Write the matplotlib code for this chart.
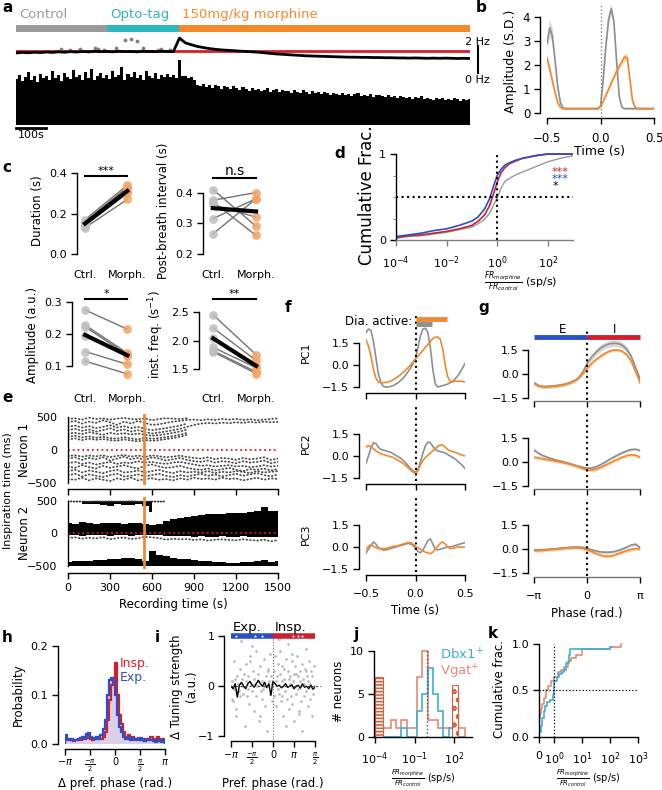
import numpy as np
import matplotlib
matplotlib.use('Agg')
import matplotlib.pyplot as plt
from matplotlib.ticker import NullLocator

nan = np.nan

# ---------------- data ----------------
# a: recording overview
cond_names = ['Control', 'Opto-tag', '150mg/kg morphine']
cond_start = [0, 300, 540]
cond_stop = [300, 540, 1500]
a_freq_t = np.arange(0, 1501, 20)
a_freq = [1.42, 1.45, 1.43, 1.46, 1.44, 1.47, 1.45, 1.48, 1.46, 1.49,
          1.47, 1.50, 1.48, 1.51, 1.49, 1.50, 1.48, 1.51, 1.49, 1.50,
          1.48, 1.51, 1.50, 1.49, 1.51, 1.50, 1.49, 2.20, 1.95, 1.85,
          1.76, 1.70, 1.65, 1.61, 1.58, 1.56, 1.54, 1.52, 1.50, 1.48,
          1.46, 1.43, 1.40, 1.37, 1.35, 1.33, 1.31, 1.29, 1.27, 1.26,
          1.25, 1.24, 1.23, 1.22, 1.21, 1.20, 1.20, 1.19, 1.19, 1.18,
          1.18, 1.17, 1.17, 1.16, 1.16, 1.15, 1.16, 1.15, 1.14, 1.15,
          1.14, 1.15, 1.14, 1.13, 1.14, 1.13]
a_out_t = [150, 180, 210, 260, 270, 290, 330, 360, 380, 400, 420, 470, 480, 510]
a_out_f = [1.62, 1.58, 1.65, 1.70, 1.62, 1.60, 1.66, 2.10, 2.15, 2.05, 1.70, 1.60, 1.62, 1.58]
a_baseline_freq = 1.53
a_amp_t = np.arange(0, 1501, 10)
a_amp = [0.92, 1.00, 0.88, 0.95, 1.05, 0.90, 0.98, 0.86, 1.02, 0.94,
         0.97, 0.90, 1.08, 0.93, 0.99, 0.88, 1.04, 0.95, 0.91, 1.10,
         0.96, 1.00, 0.89, 1.06, 0.94, 1.12, 0.90, 0.98, 1.03, 0.93,
         1.00, 0.92, 1.07, 0.95, 0.99, 1.15, 0.90, 1.02, 0.96, 1.05,
         0.94, 1.00, 0.90, 1.08, 0.97, 0.93, 1.04, 0.91, 0.99, 0.95,
         1.02, 0.96, 1.00, 0.94, 1.30, 0.98, 0.97, 0.93, 0.95, 0.90,
         0.80, 0.78, 0.82, 0.76, 0.80, 0.74, 0.79, 0.77, 0.72, 0.78,
         0.75, 0.71, 0.77, 0.73, 0.70, 0.76, 0.72, 0.68, 0.74, 0.70,
         0.72, 0.67, 0.70, 0.73, 0.66, 0.69, 0.71, 0.65, 0.70, 0.67,
         0.68, 0.64, 0.70, 0.66, 0.63, 0.69, 0.65, 0.62, 0.67, 0.64,
         0.66, 0.61, 0.65, 0.63, 0.60, 0.64, 0.62, 0.59, 0.63, 0.60,
         0.62, 0.58, 0.61, 0.64, 0.57, 0.60, 0.58, 0.62, 0.56, 0.59,
         0.60, 0.57, 0.55, 0.59, 0.56, 0.58, 0.54, 0.57, 0.55, 0.53,
         0.56, 0.52, 0.55, 0.53, 0.57, 0.51, 0.54, 0.52, 0.50, 0.53,
         0.51, 0.54, 0.50, 0.52, 0.49, 0.53, 0.51, 0.48, 0.52, 0.50,
         0.51]

# b: diaphragm amplitude
b_t = np.linspace(-0.5, 0.5, 41)
b_ctrl = [2.9, 3.55, 3.2, 2.2, 1.1, 0.45, 0.22, 0.2] + [0.2] * 12 + \
         [0.3, 1.4, 2.8, 3.9, 4.35, 3.8, 2.2, 0.7, 0.25] + [0.2] * 12
b_ctrl_sem = [0.25, 0.35, 0.3, 0.2, 0.15, 0.08, 0.05, 0.05] + [0.04] * 12 + \
             [0.05, 0.15, 0.2, 0.25, 0.2, 0.2, 0.15, 0.08, 0.05] + [0.04] * 12
b_morph = [2.3, 1.85, 1.35, 0.85, 0.45, 0.25, 0.2] + [0.2] * 13 + \
          [0.28, 0.5, 0.75, 1.0, 1.25, 1.5, 1.75, 1.95, 2.15, 2.35, 2.3, 1.4, 0.5, 0.25] + [0.2] * 7
b_morph_sem = [0.2, 0.15, 0.12, 0.1, 0.08, 0.05, 0.04] + [0.03] * 13 + \
              [0.03, 0.05, 0.06, 0.07, 0.08, 0.09, 0.1, 0.11, 0.12, 0.15, 0.15, 0.12, 0.08, 0.05] + [0.03] * 7

# c: breath parameters
c_duration_ctrl = [0.17, 0.16, 0.155, 0.15, 0.14, 0.13]
c_duration_morph = [0.34, 0.33, 0.32, 0.31, 0.30, 0.27]
c_pbi_ctrl = [0.41, 0.375, 0.37, 0.36, 0.315, 0.265]
c_pbi_morph = [0.29, 0.40, 0.26, 0.32, 0.38, 0.38]
c_amp_ctrl = [0.275, 0.228, 0.222, 0.195, 0.145, 0.115]
c_amp_morph = [0.215, 0.14, 0.135, 0.13, 0.105, 0.075]
c_freq_ctrl = [2.45, 2.22, 2.05, 1.88, 1.82, 1.80]
c_freq_morph = [1.75, 1.65, 1.55, 1.52, 1.45, 1.42]

# d: cumulative fraction of firing-rate ratio
d_logx = [-4, -3.5, -3, -2.5, -2, -1.5, -1, -0.75, -0.5, -0.3, -0.15, 0, 0.15, 0.3, 0.5, 0.75, 1, 1.5, 2, 2.5, 3]
d_blue = [0.04, 0.06, 0.08, 0.11, 0.13, 0.17, 0.22, 0.27, 0.36, 0.48, 0.62, 0.75, 0.82, 0.87, 0.90, 0.93, 0.95, 0.98, 1.0, 1.0, 1.0]
d_red = [0.03, 0.05, 0.06, 0.08, 0.10, 0.13, 0.17, 0.22, 0.29, 0.40, 0.53, 0.67, 0.78, 0.84, 0.89, 0.92, 0.95, 0.98, 1.0, 1.0, 1.0]
d_gray = [0.02, 0.04, 0.05, 0.07, 0.09, 0.12, 0.15, 0.19, 0.24, 0.31, 0.40, 0.49, 0.60, 0.68, 0.72, 0.76, 0.79, 0.85, 0.91, 0.95, 0.98]

# e: raster tracks (ms relative to inspiration)
e_t = np.arange(0, 1501, 50)
n1_tracks = [
    [200, 215, 190, 205, 185, 200, 180, 170, 195, 175, 160, 185, 170, 180, 195, 210, 230, 260] + [nan] * 13,
    [300, 320, 290, 310, 280, 300, 330, 290, 310, 280, 300, 270, 250, 265, 280, 300, 320, 350, 380, 400,
     410, 400, 415, 405, 420, 410, 425, 415, 430, 420, 425],
    [420, 440, 400, 430, 410, 450, 420, 380, 430, 400, 440, 410, 380, 390, 410, 430, 440, 455, 460, 450,
     465, 455, 470, 460, 470, 455, 465, 450, 460, 470, 480],
    [250, 260, 240, 270, 250, 230, 260, 240, 255, 235, 250, 230, 215, 225, 240, 260, 280, 310] + [nan] * 13,
    [470, 480, 460, 490, 470, 480, 460, 475, 485, 470, 465, 480, 450, 470, 480, 475, 470, 480] + [nan] * 13,
    [350, 370, 340, 360, 330, 350, 375, 340, 360, 330, 350, 320, 300, 315, 330, 350, 370, 400] + [nan] * 13,
    [160, 175, 150, 170, 155, 165, 150, 140, 160, 145, 130, 150, 140, 150, 165, 180, 200, 230] + [nan] * 13,
    [-130, -110, -150, -120, -140, -110, -160, -130, -100, -140, -120, -150, -110, -130, -160, -140, -120, -150,
     -170, -180, -160, -190, -170, -180, -200, -170, -190, -180, -160, -200, -180],
    [-250, -270, -230, -260, -280, -240, -270, -250, -230, -260, -280, -240, -220, -250, -270, -260, -240, -270,
     -290, -300, -280, -310, -290, -270, -300, -320, -290, -300, -280, -310, -290],
    [-380, -360, -400, -370, -390, -410, -380, -360, -400, -390, -370, -400, -380, -360, -390, -410, -380, -400,
     -380, -360, -390, -370, -400, -380, -360, -390, -370, -350, -380, -400, -370],
    [-440, -450, -420, -460, -430, -450, -470, -430, -450, -420, -460, -440, -430, -450, -440, -460, -430, -450,
     -420, -440, -430, -450, -420, -440, -430, -460, -440, -420, -450, -430, -440],
    [-200, -180, -210, -190, -220, -200, -180, -210, -190, -200, -170, -190, -180, -200, -210, -190, -180, -200,
     -220, -240, -230, -250, -240, -230, -250, -240, -260, -250, -230, -250, -240],
    [-320, -300, -340, -310, -330, -350, -320, -300, -340, -330, -310, -340, -320, -300, -330, -350, -320, -340,
     -330, -340, -320, -350, -330, -340, -320, -330, -350, -320, -340, -330, -320],
    [-90, -80, -100, -85, -95, -80, -110, -90, -75, -100, -85, -105, -80, -95, -110, -100, -85, -105,
     -120, -130, -110, -140, -120, -130, -150, -120, -140, -130, -110, -150, -130],
]
n2_mid_top = [160, 150, 170, 160, 150, 165, 155, 160, 150, 165, 160, 140, 130, 150, 190, 220, 240, 260, 270, 285,
              295, 300, 305, 310, 320, 320, 330, 340, 400, 350, 340]
n2_mid_bot = [-30, -20, -35, -25, -30, -20, -40, -30, -25, -35, -30, -20, -25, -30, -40, -35, -45, -40, -50, -45,
              -55, -50, -45, -50, -55, -45, -50, -55, -50, -60, -50]
n2_low_top = [-440, -430, -420, -425, -410, -400, -395, -385, -370, -375, -395, -420, -270, -330, -350, -370, -385,
              -395, -405, -420, -430, -440, -445, -450, -450, -440, -435, -420, -400, -440, -430]
n2_top_bot = [nan, nan, 460, 450, 455, 440, 430, 450, 440, 445, 450, 420, 330] + [nan] * 18
n2_scatter = [-70, -60, -80, -65, -75, -55, -90, -70, -60, -85, -75, -50, -60, -70, -95, -80, -90, -85, -100, -90,
              -110, -95, -90, -100, -105, -90, -100, -110, -95, -120, -100]
n2_top_row = [495, 490, 492, 488, 494, 490, 493, 489, 491, 495, 490, 487, 492, 490, 494] + [nan] * 16
e_morphine_t = 540

# f: PCs vs time
f_t = np.linspace(-0.5, 0.5, 41)
f_pc1_ctrl = [2.2, 2.45, 2.35, 1.6, 0.5, -0.6, -1.2, -1.45, -1.5, -1.5, -1.45, -1.4, -1.3, -1.2, -1.05, -0.9, -0.7,
              -0.45, -0.2, 0.1, 0.45, 1.2, 2.0, 2.45, 2.5, 2.2, 1.2, -0.3, -1.3, -1.5, -1.45, -1.4, -1.35, -1.3,
              -1.2, -1.1, -0.95, -0.75, -0.5, -0.2, 0.1]
f_pc1_morph = [1.7, 1.3, 0.6, -0.3, -0.9, -1.15, -1.2, -1.2, -1.18, -1.15, -1.1, -1.0, -0.9, -0.78, -0.65, -0.5,
               -0.35, -0.18, 0.0, 0.2, 0.4, 0.6, 0.8, 1.0, 1.2, 1.4, 1.6, 1.8, 1.9, 1.9, 1.75, 1.1, 0.0, -0.8, -1.1,
               -1.15, -1.1, -1.1, -1.1, -1.12, -1.15]
f_pc2_ctrl = [-0.5, 0.0, 0.55, 0.9, 0.85, 0.6, 0.45, 0.4, 0.35, 0.3, 0.25, 0.15, 0.05, -0.05, -0.15, -0.3, -0.45,
              -0.65, -0.85, -1.0, -1.1, -0.9, -0.4, 0.2, 0.7, 0.95, 0.9, 0.65, 0.45, 0.35, 0.3, 0.25, 0.2, 0.1, 0.0,
              -0.1, -0.2, -0.35, -0.5, -0.65, -0.85]
f_pc2_morph = [0.6, 0.7, 0.65, 0.5, 0.35, 0.25, 0.15, 0.1, 0.05, 0.0, -0.05, -0.1, -0.2, -0.3, -0.4, -0.5, -0.65,
               -0.8, -0.95, -1.1, -1.2, -1.0, -0.6, -0.3, -0.1, 0.05, 0.2, 0.35, 0.5, 0.65, 0.75, 0.75, 0.6, 0.45,
               0.35, 0.3, 0.25, 0.2, 0.1, 0.05, 0.0]
f_pc3_ctrl = [-0.4, -0.15, 0.1, 0.35, 0.2, -0.05, -0.15, -0.2, -0.2, -0.15, -0.1, -0.05, 0.0, 0.05, 0.1, 0.15, 0.2,
              0.25, 0.2, 0.1, -0.1, -0.3, -0.4, -0.2, 0.1, 0.45, 0.55, 0.2, -0.15, -0.2, -0.15, -0.1, -0.05, 0.0,
              0.0, 0.05, 0.1, 0.15, 0.2, 0.25, 0.3]
f_pc3_morph = [-0.15, 0.05, 0.15, 0.05, -0.05, -0.1, -0.1, -0.1, -0.1, -0.05, 0.0, 0.05, 0.05, 0.1, 0.15, 0.2, 0.25,
               0.3, 0.3, 0.2, 0.05, -0.05, -0.15, -0.25, -0.35, -0.4, -0.45, -0.35, -0.15, 0.05, 0.25, 0.35, 0.2,
               0.0, -0.1, -0.1, -0.05, 0.0, 0.0, 0.0, 0.0]
f_dia_ctrl = 0.17
f_dia_morph = 0.32

# g: PCs vs phase
g_phase = np.linspace(-np.pi, np.pi, 25)
g_pc1_ctrl = [-0.55, -0.72, -0.78, -0.78, -0.76, -0.73, -0.69, -0.63, -0.55, -0.43, -0.25, 0.1, 0.65, 1.05, 1.35,
              1.6, 1.78, 1.88, 1.92, 1.9, 1.8, 1.55, 1.1, 0.4, -0.3]
g_pc1_morph = [-0.6, -0.75, -0.8, -0.8, -0.78, -0.75, -0.71, -0.65, -0.57, -0.45, -0.28, 0.0, 0.35, 0.65, 0.9,
               1.1, 1.28, 1.42, 1.5, 1.5, 1.42, 1.2, 0.8, 0.15, -0.55]
g_pc1_ctrl_sem = [0.1] * 11 + [0.12, 0.15, 0.18, 0.2, 0.2, 0.2, 0.2, 0.2, 0.2, 0.2, 0.18, 0.15, 0.12, 0.1]
g_pc2_ctrl = [0.75, 0.55, 0.4, 0.3, 0.2, 0.12, 0.05, -0.02, -0.1, -0.18, -0.26, -0.33, -0.38, -0.38, -0.3, -0.18,
              -0.02, 0.15, 0.3, 0.45, 0.58, 0.7, 0.78, 0.8, 0.72]
g_pc2_morph = [0.3, 0.25, 0.2, 0.15, 0.1, 0.05, 0.0, -0.05, -0.12, -0.2, -0.3, -0.4, -0.48, -0.5, -0.45, -0.35,
               -0.22, -0.08, 0.05, 0.18, 0.3, 0.4, 0.45, 0.42, 0.3]
g_pc3_ctrl = [-0.05, -0.05, -0.05, -0.03, 0.0, 0.02, 0.05, 0.08, 0.1, 0.12, 0.12, 0.1, 0.05, -0.05, -0.12, -0.18,
              -0.2, -0.2, -0.17, -0.1, 0.0, 0.12, 0.25, 0.3, 0.1]
g_pc3_morph = [-0.1, -0.1, -0.08, -0.05, -0.03, 0.0, 0.02, 0.05, 0.07, 0.08, 0.07, 0.04, -0.05, -0.15, -0.28, -0.38,
               -0.45, -0.45, -0.4, -0.3, -0.2, -0.1, -0.02, 0.02, 0.0]

# h: change in preferred phase
h_exp = [0.018, 0.01, 0.008, 0.01, 0.008, 0.008, 0.01, 0.012, 0.015, 0.01, 0.02, 0.022, 0.015, 0.012, 0.01, 0.015,
         0.01, 0.018, 0.03, 0.05, 0.1, 0.13, 0.135, 0.128, 0.1, 0.06, 0.035, 0.025, 0.015, 0.01, 0.012, 0.008,
         0.012, 0.01, 0.01, 0.008, 0.012, 0.008, 0.006, 0.008, 0.01, 0.008, 0.006, 0.005, 0.008, 0.006, 0.005, 0.01]
h_insp = [0.012, 0.008, 0.01, 0.008, 0.006, 0.008, 0.01, 0.008, 0.012, 0.015, 0.018, 0.012, 0.01, 0.008, 0.01,
          0.012, 0.015, 0.01, 0.015, 0.025, 0.05, 0.09, 0.12, 0.13, 0.165, 0.1, 0.06, 0.04, 0.025, 0.015, 0.018,
          0.01, 0.015, 0.008, 0.01, 0.012, 0.008, 0.01, 0.006, 0.01, 0.008, 0.015, 0.01, 0.008, 0.015, 0.01, 0.008,
          0.006]

# i: change in tuning strength vs preferred phase
i_x = [-3.1, -3.0, -2.95, -2.9, -2.85, -2.8, -2.7, -2.65, -2.6, -2.5,
       -2.45, -2.4, -2.3, -2.25, -2.2, -2.1, -2.05, -2.0, -1.9, -1.85,
       -1.8, -1.7, -1.65, -1.6, -1.5, -1.45, -1.4, -1.3, -1.25, -1.2,
       -1.1, -1.05, -1.0, -0.9, -0.85, -0.8, -0.7, -0.65, -0.6, -0.5,
       -0.45, -0.4, -0.3, -0.25, -0.2, -0.1, -0.05, -2.75, -2.35, -1.95,
       -1.55, -1.15, -0.75, -0.35, -2.55, -1.75, -0.95, -0.15, -3.05, -1.35,
       0.05, 0.1, 0.15, 0.2, 0.25, 0.3, 0.35, 0.4, 0.45, 0.5,
       0.55, 0.6, 0.65, 0.7, 0.75, 0.8, 0.85, 0.9, 0.95, 1.0,
       1.05, 1.1, 1.15, 1.2, 1.25, 1.3, 1.35, 1.4, 1.45, 1.5,
       1.55, 1.6, 1.65, 1.7, 1.75, 1.8, 1.85, 1.9, 1.95, 2.0,
       2.05, 2.1, 2.15, 2.2, 2.25, 2.3, 2.35, 2.4, 2.45, 2.5,
       2.55, 2.6, 2.65, 2.7, 2.75, 2.8, 2.85, 2.9, 2.95, 3.0,
       3.05, 3.1, 0.45, 0.95, 1.45, 1.95, 2.45, 0.7, 1.2, 1.7]
i_y = [0.1, -0.3, 0.5, -0.05, 0.15, -0.6, 0.2, -0.1, 0.05, 0.35,
       -0.2, 0.9, 0.0, -0.15, 0.25, -0.8, 0.1, 0.45, -0.05, 0.2,
       -0.35, 0.6, 0.05, -0.1, 0.3, -0.5, 0.15, 0.7, -0.2, 0.0,
       0.25, -0.7, 0.4, -0.1, 0.1, -0.25, 0.55, 0.0, -0.4, 0.2,
       -0.9, 0.3, 0.1, -0.15, 0.65, -0.3, 0.05, -0.45, 0.15, -0.2,
       0.8, 0.1, -0.05, 0.35, -0.1, 0.5, -0.6, 0.2, -0.25, 0.05,
       0.3, -0.2, 0.6, 0.1, -0.4, 0.2, -0.05, 0.45, -0.15, 0.25,
       0.7, -0.3, 0.1, 0.4, -0.6, 0.15, 0.35, -0.1, 0.55, 0.0,
       -0.25, 0.3, 0.85, -0.45, 0.2, 0.05, -0.2, 0.5, -0.35, 0.1,
       0.25, -0.7, 0.4, 0.0, -0.15, 0.6, -0.05, 0.2, -0.5, 0.3,
       0.1, -0.3, 0.45, -0.9, 0.15, 0.05, -0.2, 0.35, 0.75, -0.1,
       0.2, -0.4, 0.1, 0.5, -0.25, 0.05, 0.3, -0.6, 0.2, -0.15,
       0.4, 0.0, 0.95, -0.8, 0.65, -0.55, 0.3, -0.2, 0.15, 0.25]
i_mean = [0.0, -0.05, 0.05, -0.22, 0.02, 0.08, 0.0, -0.05, 0.05, 0.1,
          0.03, -0.02, 0.05, 0.12, 0.05, 0.0, 0.08, -0.03, 0.05, -0.18, 0.1,
          0.05, 0.0, 0.02, -0.03, 0.0, 0.05, -0.02, 0.0, 0.03, -0.05,
          0.0, 0.02, -0.04, 0.05, -0.02, 0.0, -0.05, 0.02, -0.06, -0.02]
i_sig_exp = [-2.8, -1.35, -0.8]
i_sig_insp = [1.5, 1.85, 2.2]

# j: histogram of FR ratio (log10 bin edges)
j_edges = [-3.6, -3.2, -2.8, -2.4, -2.0, -1.6, -1.2, -0.8, -0.4, 0.0, 0.4, 0.8, 1.2, 1.6, 2.0, 2.4, 2.8]
j_vgat = [1, 1, 2, 1, 2, 1, 1, 7, 10, 2, 2, 1, 1, 1, 1, 1]
j_dbx1 = [0, 0, 0, 0, 1, 0, 0, 3, 5, 8, 5, 3, 0, 1, 0, 0]
j_vgat_silenced = 7
j_vgat_saturated = 6
j_median = 0.9

# k: cumulative fraction
k_vgat_x = [0.0, 0.05, 0.1, 0.2, 0.3, 0.45, 0.6, 0.8, 1.0, 1.3, 1.7, 2.2, 3.0, 4.0, 6.0, 10.0, 30.0, 100.0, 250.0]
k_vgat_y = [0.2, 0.25, 0.3, 0.35, 0.42, 0.5, 0.55, 0.6, 0.65, 0.7, 0.72, 0.75, 0.82, 0.85, 0.88, 0.95, 0.95, 0.97, 1.0]
k_dbx1_x = [0.0, 0.1, 0.2, 0.3, 0.4, 0.5, 0.7, 0.9, 1.0, 1.2, 1.5, 1.8, 2.2, 2.6, 3.2, 3.6, 100.0, 120.0]
k_dbx1_y = [0.05, 0.12, 0.2, 0.28, 0.33, 0.38, 0.4, 0.45, 0.6, 0.65, 0.68, 0.7, 0.72, 0.8, 0.88, 0.95, 0.97, 0.97]

# ---------------- style ----------------
GRAY = '#8f8f8f'
ORANGE = '#f08a2c'
COND_COLORS = ['#9a9a9a', '#2ab7bd', '#f58a2b']
RED = '#d0202e'
BLUE = '#2a4fc9'
VGAT = '#e58a73'
DBX = '#3eaed6'
FRAC = r'$\frac{FR_{morphine}}{FR_{control}}$ (sp/s)'

plt.rcParams['font.family'] = ['DejaVu Sans']
plt.rcParams['font.size'] = 8
plt.rcParams['axes.linewidth'] = 1.0
plt.rcParams['hatch.linewidth'] = 1.2

W, H = 662, 790
fig = plt.figure(figsize=(W / 100, H / 100), dpi=100)


def px_ax(l, t, r, b):
    return fig.add_axes([l / W, 1 - b / H, (r - l) / W, (b - t) / H])


def clean(ax, left=0, bottom=0):
    for s in ['top', 'right']:
        ax.spines[s].set_visible(False)
    ax.spines['left'].set_position(('outward', left))
    ax.spines['bottom'].set_position(('outward', bottom))
    ax.tick_params(length=4, width=1, pad=3, labelsize=8)
    ax.patch.set_alpha(0)


def letter(x, y, s):
    fig.text(x / W, 1 - y / H, s, fontsize=11, fontweight='bold', ha='left', va='center')


def ftext(x, y, s, **kw):
    fig.text(x / W, 1 - y / H, s, **kw)


# ---------------- a ----------------
ax = px_ax(16, 55, 470, 125)
ax.bar(a_amp_t, a_amp, width=10, color='k', lw=0)
ax.set_xlim(0, 1500)
ax.set_ylim(0, 1.4)
ax.axis('off')
ax.plot([0, 100], [-0.06, -0.06], color='k', lw=2, clip_on=False)
ax.text(50, -0.1, '100s', ha='center', va='top', fontsize=8)

ax = px_ax(16, 33, 470, 80)
ax.patch.set_alpha(0)
ax.axhline(a_baseline_freq, color=RED, lw=2)
ax.scatter(a_out_t, a_out_f, s=3, color='0.5', zorder=3)
ax.plot(a_freq_t, a_freq, color='k', lw=2, zorder=4)
ax.set_xlim(0, 1500)
ax.set_ylim(0, 2.47)
ax.axis('off')
ax.plot([1525, 1525], [0.37, 1.79], color='k', lw=1.5, clip_on=False)
ax.text(1525, 2.0, '2 Hz', ha='center', va='center', fontsize=8)
ax.text(1525, 0.0, '0 Hz', ha='center', va='center', fontsize=8)

ax = px_ax(16, 25, 470, 32)
for name, start, stop, col in zip(cond_names, cond_start, cond_stop, COND_COLORS):
    ax.axvspan(start, stop, color=col, lw=0)
    ax.text(start + 10, 2.45, name, color=col, fontsize=9.5, ha='left', va='center')
ax.set_xlim(0, 1500)
ax.set_ylim(0, 1)
ax.axis('off')
letter(2, 8, 'a')

# ---------------- b ----------------
ax = px_ax(547, 5, 654, 117)
ax.fill_between(b_t, np.array(b_ctrl) - b_ctrl_sem, np.array(b_ctrl) + b_ctrl_sem, color=GRAY, alpha=0.35, lw=0)
ax.plot(b_t, b_ctrl, color=GRAY, lw=1.2)
ax.fill_between(b_t, np.array(b_morph) - b_morph_sem, np.array(b_morph) + b_morph_sem, color=ORANGE, alpha=0.35,
                lw=0)
ax.plot(b_t, b_morph, color=ORANGE, lw=1.2)
ax.axvline(0, color='0.5', ls=':', lw=1)
ax.set_xlim(-0.5, 0.5)
ax.set_ylim(-0.15, 4.5)
clean(ax, left=5, bottom=1)
ax.spines['left'].set_bounds(0, 4)
ax.spines['bottom'].set_bounds(-0.5, 0.5)
ax.set_xticks([-0.5, 0, 0.5])
ax.set_xticklabels(['\u22120.5', '0.0', '0.5'])
ax.set_yticks([0, 1, 2, 3, 4])
ax.tick_params(labelsize=8.5)
ax.tick_params(axis='x', pad=6)
ax.set_ylabel('Amplitude (S.D.)', fontsize=9)
ftext(600, 152, 'Time (s)', fontsize=9, ha='center', va='center')
letter(476, 8, 'b')


# ---------------- c ----------------
def c_panel(box, xlim, ylim, ctrl, morph, yticks, yfmt, ylabel, bar_y, stars, star_size):
    ax = px_ax(*box)
    for c, m in zip(ctrl, morph):
        ax.plot([0, 1], [c, m], color='0.45', lw=1, zorder=1)
    ax.scatter([0] * len(ctrl), ctrl, s=40, color='#bfbfbf', alpha=0.85, lw=0, zorder=2)
    ax.scatter([1] * len(morph), morph, s=40, color='#f5a462', alpha=0.85, lw=0, zorder=2)
    ax.plot([0, 1], [np.mean(ctrl), np.mean(morph)], color='k', lw=3, zorder=3)
    ax.plot([0, 1], [bar_y, bar_y], color='k', lw=1.5, clip_on=False)
    ax.text(0.5, bar_y, stars, ha='center', va='bottom', fontsize=star_size)
    ax.set_xlim(*xlim)
    ax.set_ylim(*ylim)
    clean(ax)
    ax.spines['bottom'].set_visible(False)
    ax.spines['left'].set_bounds(yticks[0], yticks[-1])
    ax.set_yticks(yticks)
    ax.set_yticklabels([yfmt.format(v) for v in yticks])
    ax.set_xticks([0, 1])
    ax.set_xticklabels(['Ctrl.', 'Morph.'])
    ax.tick_params(axis='x', length=0, pad=10)
    ax.set_ylabel(ylabel, fontsize=8.5)
    return ax


c_panel((77, 165, 140, 256), (-0.19, 1.3), (-0.01, 0.44), c_duration_ctrl, c_duration_morph,
        [0.0, 0.2, 0.4], '{:.1f}', 'Duration (s)', 0.385, '***', 8)
c_panel((203, 165, 269, 256), (-0.23, 1.3), (0.193, 0.49), c_pbi_ctrl, c_pbi_morph,
        [0.2, 0.3, 0.4], '{:.1f}', 'Post-breath interval (s)', 0.446, 'n.s', 10)
c_panel((72, 290, 140, 380), (-0.31, 1.3), (0.056, 0.3375), c_amp_ctrl, c_amp_morph,
        [0.1, 0.2, 0.3], '{:.1f}', 'Amplitude (a.u.)', 0.309, '*', 8)
c_panel((199, 290, 269, 380), (-0.33, 1.3), (1.307, 2.886), c_freq_ctrl, c_freq_morph,
        [1.5, 2.0, 2.5], '{:.1f}', 'inst. freq. (s$^{-1}$)', 2.728, '**', 8)
letter(2, 168, 'c')

# ---------------- d ----------------
ax = px_ax(396, 148, 573, 242)
ax.set_xscale('log')
ax.plot(10 ** np.array(d_logx), d_gray, color='0.6', lw=1)
ax.plot(10 ** np.array(d_logx), d_red, color=RED, lw=1.2)
ax.plot(10 ** np.array(d_logx), d_blue, color=BLUE, lw=1.2)
ax.plot([1e-4, 1e3], [0.5, 0.5], color='k', ls=':', lw=1.5)
ax.plot([1, 1], [0, 1.02], color='k', ls=':', lw=1.5)
ax.set_xlim(1e-4, 1e3)
ax.set_ylim(-0.023, 1.07)
clean(ax)
ax.spines['bottom'].set_position(('data', 0))
ax.spines['bottom'].set_color('0.5')
ax.spines['left'].set_bounds(0, 1)
ax.set_xticks([1e-4, 1e-2, 1, 1e2])
ax.xaxis.set_minor_locator(NullLocator())
ax.set_yticks([0, 1])
ax.set_yticks([0.25, 0.5, 0.75], minor=True)
ax.tick_params(axis='y', which='minor', length=2.5, color='0.5')
ax.tick_params(axis='x', pad=6, color='0.5')
ax.set_ylabel('Cumulative Frac.', fontsize=12, labelpad=2)
ftext(521, 282, FRAC, fontsize=8, ha='center', va='center')
ftext(552, 172, '***', color=RED, fontsize=8, va='center')
ftext(552, 179, '***', color=BLUE, fontsize=8, va='center')
ftext(553, 186, '*', color='k', fontsize=8, va='center')
letter(334, 154, 'd')

# ---------------- e ----------------
ax1 = px_ax(68, 414, 278, 485)
for tr in n1_tracks:
    ax1.plot(e_t, tr, color='0.3', lw=1.3, ls=(0, (0.4, 1.6)), dash_capstyle='round')
ax1.axhline(0, color=RED, ls=':', lw=1.3)
ax1.axvline(e_morphine_t, color=ORANGE, lw=2)
ax1.set_ylim(-530, 545)
ax2 = px_ax(68, 497, 278, 569)
ax2.fill_between(e_t, n2_mid_bot, n2_mid_top, step='mid', color='k', lw=0)
ax2.fill_between(e_t, -500, n2_low_top, step='mid', color='k', lw=0)
ax2.fill_between(e_t, n2_top_bot, 500, step='mid', color='k', lw=0)
ax2.plot(e_t, n2_scatter, color='0.3', lw=1.3, ls=(0, (0.4, 1.6)), dash_capstyle='round')
ax2.plot(e_t, n2_top_row, color='0.2', lw=1.3, ls=(0, (0.4, 1.2)), dash_capstyle='round')
ax2.axhline(0, color=RED, ls=':', lw=1.3)
ax2.axvline(e_morphine_t, color=ORANGE, lw=2)
ax2.set_ylim(-546, 561)
for a_ in [ax1, ax2]:
    a_.set_xlim(0, 1500)
    clean(a_, bottom=3)
    a_.spines['left'].set_bounds(-500, 500)
    a_.set_yticks([-500, 0, 500])
    a_.set_yticklabels(['\u2212500', '0', '500'])
    a_.tick_params(axis='y', length=0, pad=8)
    a_.set_xticks([0, 300, 600, 900, 1200, 1500])
ax1.set_xticklabels([])
ax2.set_xlabel('Recording time (s)', fontsize=8.5)
ftext(25, 450, 'Neuron 1', rotation=90, fontsize=8.5, ha='center', va='center')
ftext(25, 533, 'Neuron 2', rotation=90, fontsize=8.5, ha='center', va='center')
ftext(8, 491, 'Inspiration time (ms)', rotation=90, fontsize=8, ha='center', va='center')
letter(2, 398, 'e')

# ---------------- f ----------------
f_pairs = [(f_pc1_ctrl, f_pc1_morph), (f_pc2_ctrl, f_pc2_morph), (f_pc3_ctrl, f_pc3_morph)]
f_tops = [315, 406, 497]
for k, ((yc, ym), top) in enumerate(zip(f_pairs, f_tops)):
    ax = px_ax(366, top, 465, top + 75)
    ax.plot(f_t, yc, color=GRAY, lw=1.2)
    ax.plot(f_t, ym, color=ORANGE, lw=1.2)
    ax.axvline(0, color='k', ls=':', lw=1.5)
    ax.set_xlim(-0.5, 0.5)
    ax.set_ylim(-1.7, 3.4)
    clean(ax, left=5, bottom=2)
    ax.spines['left'].set_bounds(-1.5, 1.5)
    ax.spines['bottom'].set_bounds(-0.5, 0.5)
    ax.set_yticks([-1.5, 0, 1.5])
    ax.set_yticklabels(['\u22121.5', '0.0', '1.5'])
    ax.set_xticks([-0.5, 0, 0.5])
    ax.set_ylabel('PC%d' % (k + 1), fontsize=8, labelpad=8)
    if k < 2:
        ax.set_xticklabels([])
    else:
        ax.set_xticklabels(['\u22120.5', '0.0', '0.5'])
        ax.tick_params(axis='x', pad=6)
        ax.set_xlabel('Time (s)', fontsize=8.5)
    if k == 0:
        ax.plot([0, f_dia_morph], [3.14, 3.14], color=ORANGE, lw=3.5, solid_capstyle='butt', clip_on=False)
        ax.plot([0, f_dia_ctrl], [2.78, 2.78], color=GRAY, lw=3.5, solid_capstyle='butt', clip_on=False)
        ax.text(-0.03, 2.93, 'Dia. active:', ha='right', va='center', fontsize=8.5)
letter(285, 307, 'f')

# ---------------- g ----------------
g_pairs = [(g_pc1_ctrl, g_pc1_morph), (g_pc2_ctrl, g_pc2_morph), (g_pc3_ctrl, g_pc3_morph)]
g_boxes = [(330, 400, 374), (413, 488, 462), (502, 576, 549)]
for k, ((yc, ym), (top, bot, zero)) in enumerate(zip(g_pairs, g_boxes)):
    ax = px_ax(534, top, 640, bot)
    sem_c = g_pc1_ctrl_sem if k == 0 else [0.08] * len(yc)
    ax.fill_between(g_phase, np.array(yc) - sem_c, np.array(yc) + sem_c, color=GRAY, alpha=0.35, lw=0)
    ax.fill_between(g_phase, np.array(ym) - 0.1, np.array(ym) + 0.1, color=ORANGE, alpha=0.35, lw=0)
    ax.plot(g_phase, yc, color=GRAY, lw=1.2)
    ax.plot(g_phase, ym, color=ORANGE, lw=1.2)
    ax.axvline(0, color='k', ls=':', lw=1.5)
    ax.set_xlim(-np.pi, np.pi)
    ax.set_ylim(-(bot - zero) / 16, (zero - top) / 16)
    clean(ax, left=4, bottom=1)
    ax.spines['left'].set_bounds(-1.5, 1.5)
    ax.spines['bottom'].set_color('0.45')
    ax.set_yticks([-1.5, 0, 1.5])
    ax.set_yticklabels(['\u22121.5', '0.0', '1.5'])
    ax.set_xticks([-np.pi, 0, np.pi])
    if k < 2:
        ax.set_xticklabels([])
    else:
        ax.set_xticklabels(['\u2212\u03c0', '0', '\u03c0'])
        ax.tick_params(axis='x', pad=6)
        ax.set_xlabel('Phase (rad.)', fontsize=8.5)
    if k == 0:
        ax.plot([-np.pi, 0], [2.3, 2.3], color=BLUE, lw=3.5, solid_capstyle='butt', clip_on=False)
        ax.plot([0, np.pi], [2.3, 2.3], color=RED, lw=3.5, solid_capstyle='butt', clip_on=False)
        ax.text(-1.45, 2.35, 'E', ha='center', va='bottom', fontsize=8.5)
        ax.text(1.65, 2.35, 'I', ha='center', va='bottom', fontsize=8.5)
letter(478, 307, 'g')

# ---------------- h ----------------
ax = px_ax(65, 644, 165, 746)
h_edges = np.linspace(-np.pi, np.pi, len(h_exp) + 1)
ax.stairs(h_exp, h_edges, fill=True, color='#dcd0e8', lw=0)
ax.stairs(h_insp, h_edges, color=RED, lw=1.6)
ax.stairs(h_exp, h_edges, color=BLUE, lw=1.6)
ax.set_xlim(-np.pi, np.pi)
ax.set_ylim(-0.004, 0.204)
clean(ax, left=5, bottom=2)
ax.spines['left'].set_bounds(0, 0.2)
ax.set_yticks([0, 0.1, 0.2])
ax.set_yticklabels(['0.0', '0.1', '0.2'])
ax.set_xticks([-np.pi, -np.pi / 2, 0, np.pi / 2, np.pi])
ax.set_xticklabels([r'$-\pi$', r'$\frac{-\pi}{2}$', '0', r'$\frac{\pi}{2}$', r'$\pi$'])
ax.tick_params(axis='x', pad=2, labelsize=7)
ax.set_ylabel('Probability', fontsize=8.5)
ftext(115, 784, '\u0394 pref. phase (rad.)', fontsize=8.5, ha='center', va='center')
ax.text(0.3, 0.165, 'Insp.', color=RED, fontsize=9, va='center')
ax.text(0.3, 0.135, 'Exp.', color=BLUE, fontsize=9, va='center')
letter(2, 637, 'h')

# ---------------- i ----------------
ax = px_ax(231, 633, 315, 740)
ax.scatter(i_x, i_y, s=4, color='#bdbdbd', lw=0)
ax.plot(np.linspace(-np.pi, np.pi, len(i_mean)), i_mean, color='k', lw=1)
ax.axvline(0, color='0.4', ls=':', lw=0.8)
ax.plot([-np.pi, 3.6], [0, 0], color='0.3', ls=(0, (2, 2)), lw=0.8, clip_on=False)
ax.plot([-np.pi, 0], [1.0, 1.0], color=BLUE, lw=4, solid_capstyle='butt', clip_on=False)
ax.plot([0, np.pi], [1.0, 1.0], color=RED, lw=4, solid_capstyle='butt', clip_on=False)
ax.scatter(i_sig_exp + i_sig_insp, [1.0] * 6, marker='*', s=6, color='white', lw=0, zorder=5, clip_on=False)
ax.text(-1.95, 1.19, 'Exp.', ha='center', va='center', fontsize=9.5)
ax.text(1.3, 1.19, 'Insp.', ha='center', va='center', fontsize=9.5)
ax.set_xlim(-np.pi, np.pi)
ax.set_ylim(-1.08, 1.07)
clean(ax, left=5, bottom=1)
ax.spines['left'].set_bounds(-1, 1)
ax.set_yticks([-1, 0, 1])
ax.set_yticklabels(['\u22121', '0', '1'])
ax.set_xticks([-np.pi, -np.pi / 2, 0, np.pi / 2, np.pi])
ax.set_xticklabels([r'$-\pi$', r'$\frac{-\pi}{2}$', '0', r'$\pi$', r'$\frac{\pi}{2}$'])
ax.tick_params(axis='x', pad=2, labelsize=7)
ax.set_ylabel('\u0394 Tuning strength\n(a.u.)', fontsize=8.5, labelpad=0)
ftext(273, 784, 'Pref. phase (rad.)', fontsize=8.5, ha='center', va='center')
letter(155, 637, 'i')

# ---------------- j ----------------
ax = px_ax(374, 646, 472, 737)
ax.set_xscale('log')
edges = 10 ** np.array(j_edges)
ax.stairs(j_vgat, edges, color=VGAT, lw=1.2)
ax.stairs(j_dbx1, edges, color=DBX, lw=1.2)
ax.bar(10 ** -4.0, j_vgat_silenced, width=10 ** -3.42 - 10 ** -4.0, align='edge', facecolor='white',
       edgecolor='#d9603f', hatch='-----', lw=0.8)
ax.bar(10 ** 1.82, j_vgat_saturated, width=10 ** 2.3 - 10 ** 1.82, align='edge', facecolor='white',
       edgecolor='#d9603f', hatch='oo', lw=0.8)
ax.plot([j_median, j_median], [0, 10], color='0.3', ls=':', lw=1)
ax.set_xlim(10 ** -4.08, 10 ** 3.37)
ax.set_ylim(0, 10.6)
clean(ax)
ax.spines['left'].set_bounds(0, 10)
ax.set_xticks([1e-4, 1e-1, 1e2])
ax.xaxis.set_minor_locator(NullLocator())
ax.set_yticks([0, 5, 10])
ax.tick_params(axis='x', pad=6)
ax.set_ylabel('# neurons', fontsize=8.5)
ax.text(8.0, 9.6, 'Dbx1$^{+}$', color=DBX, fontsize=9.5, va='center')
ax.text(8.0, 7.6, 'Vgat$^{+}$', color=VGAT, fontsize=9.5, va='center')
ftext(423, 778, FRAC, fontsize=7, ha='center', va='center')
letter(353, 635, 'j')

# ---------------- k ----------------
ax = px_ax(539, 640, 638, 737)
ax.set_xscale('symlog', linthresh=1, linscale=0.5)
ax.step([0] + k_vgat_x, [0] + k_vgat_y, where='post', color=VGAT, lw=1.2)
ax.step([0] + k_dbx1_x, [0] + k_dbx1_y, where='post', color=DBX, lw=1.2)
ax.plot([0, 1000], [0.5, 0.5], color='k', ls=':', lw=0.9)
ax.plot([1, 1], [0, 1.0], color='k', ls=':', lw=0.9)
ax.set_xlim(0, 1000)
ax.set_ylim(0, 1.043)
clean(ax)
ax.spines['left'].set_bounds(0, 1)
ax.set_xticks([0, 1, 10, 100, 1000])
ax.set_xticklabels(['0', '$10^0$', '$10^1$', '$10^2$', '$10^3$'])
ax.xaxis.set_minor_locator(NullLocator())
ax.set_yticks([0, 0.5, 1.0])
ax.set_yticklabels(['0.0', '0.5', '1.0'])
ax.tick_params(axis='x', pad=6)
ax.set_ylabel('Cumulative frac.', fontsize=8.5)
ftext(588, 778, FRAC, fontsize=7, ha='center', va='center')
letter(488, 633, 'k')

fig.savefig('out.png', dpi=100)
